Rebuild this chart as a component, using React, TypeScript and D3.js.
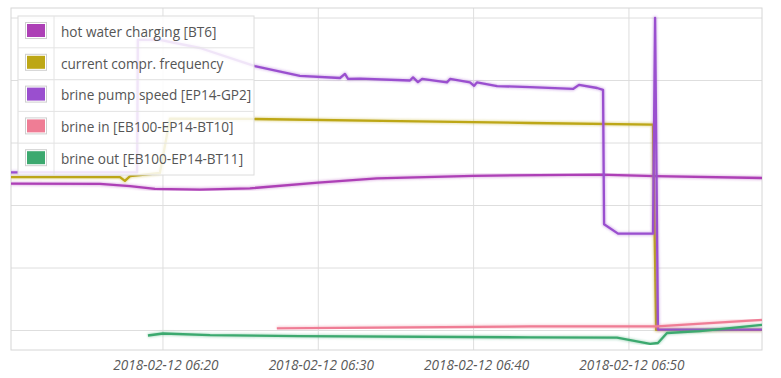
import React from "react";
import * as d3 from "d3";

const DAY = "2018-02-12";
const xTickLabels = ["06:20", "06:30", "06:40", "06:50"];
const yGridValues = [0, 20, 40, 60, 80, 100];
const xDomain = ["06:10:13", "06:58:34"];
const yDomain = [-6.24, 103.2];

const seriesNames = [
  "hot water charging [BT6]",
  "current compr. frequency",
  "brine pump speed [EP14-GP2]",
  "brine in [EB100-EP14-BT10]",
  "brine out [EB100-EP14-BT11]",
];
const seriesColors = ["#ad40b6", "#bda716", "#9a4fcf", "#ef7d95", "#3ca96f"];

const hotWater: [string, number][] = [
  ["06:10:13", 47.0], ["06:15:57", 46.9], ["06:17:53", 46.2], ["06:19:29", 45.3],
  ["06:22:23", 45.1], ["06:25:36", 45.5], ["06:29:59", 47.3], ["06:33:47", 48.7],
  ["06:39:58", 49.5], ["06:48:08", 49.9], ["06:51:41", 49.4], ["06:58:34", 48.8],
];
const comprFreq: [string, number][] = [
  ["06:10:13", 49.1], ["06:17:14", 49.1], ["06:17:33", 47.9], ["06:17:53", 49.4],
  ["06:19:48", 50.4], ["06:20:27", 67.8], ["06:25:36", 67.7], ["06:35:16", 67.0],
  ["06:43:38", 66.4], ["06:51:33", 65.9], ["06:51:45", 0.2], ["06:58:34", 0.2],
];
const brinePump: [string, number][] = [
  ["06:10:13", 50.6], ["06:18:20", 50.6], ["06:18:23", 93.0], ["06:19:48", 93.0],
  ["06:22:23", 90.4], ["06:25:55", 84.6], ["06:28:49", 81.5], ["06:31:24", 80.8],
  ["06:31:43", 82.1], ["06:31:55", 80.5], ["06:32:41", 80.6], ["06:35:54", 80.0],
  ["06:36:06", 81.0], ["06:36:25", 79.5], ["06:36:41", 80.5], ["06:38:17", 79.4],
  ["06:38:29", 80.5], ["06:39:46", 79.4], ["06:40:02", 78.3], ["06:40:13", 79.4],
  ["06:41:31", 78.2], ["06:43:38", 77.9], ["06:46:24", 77.3], ["06:46:47", 78.6],
  ["06:47:57", 77.6], ["06:48:20", 77.0], ["06:48:24", 34.0], ["06:49:18", 31.0],
  ["06:51:33", 31.0], ["06:51:41", 100.0], ["06:51:52", 0.3], ["06:58:34", 0.3],
];
const brineIn: [string, number][] = [
  ["06:27:20", 0.7], ["06:43:38", 1.3], ["06:51:48", 1.3], ["06:58:34", 3.4],
];
const brineOut: [string, number][] = [
  ["06:19:02", -1.6], ["06:20:00", -0.96], ["06:23:02", -1.5], ["06:28:49", -1.8],
  ["06:43:38", -2.2], ["06:49:14", -2.3], ["06:51:22", -4.3], ["06:51:52", -4.0],
  ["06:52:27", -0.8], ["06:54:35", -0.2], ["06:58:34", 1.8],
];

const allSeries = [hotWater, comprFreq, brinePump, brineIn, brineOut];

const parseT = d3.timeParse("%Y-%m-%d %H:%M:%S");
const toDate = (t: string) => parseT(`${DAY} ${t.length === 5 ? t + ":00" : t}`) as Date;

export default function App() {
  const W = 781, H = 378;
  const left = 11, right = 762, top = 8, bottom = 350;
  const x = d3.scaleTime().domain(xDomain.map(toDate)).range([left, right]);
  const y = d3.scaleLinear().domain(yDomain).range([bottom, top]);
  const line = d3
    .line<[string, number]>()
    .x((d) => x(toDate(d[0])))
    .y((d) => y(d[1]));

  const legX = 18, legY = 16, legW = 236, rowH = 31.8;

  return (
    <svg
      width={W}
      height={H}
      style={{ position: "absolute", left: 0, top: 0, background: "#fff" }}
      fontFamily="'Open Sans', sans-serif"
    >
      <defs>
        <clipPath id="plot">
          <rect x={left} y={top} width={right - left} height={bottom - top} />
        </clipPath>
        <filter id="soft" x="-5%" y="-5%" width="110%" height="110%">
          <feGaussianBlur stdDeviation="1.2" />
        </filter>
      </defs>
      {yGridValues.map((v) => (
        <line key={v} x1={left} x2={right} y1={y(v)} y2={y(v)} stroke="#dedede" strokeWidth={1} />
      ))}
      {xTickLabels.map((t) => (
        <line key={t} x1={x(toDate(t))} x2={x(toDate(t))} y1={top} y2={bottom} stroke="#dedede" strokeWidth={1} />
      ))}
      <rect x={left} y={top} width={right - left} height={bottom - top} fill="none" stroke="#d6d6d6" strokeWidth={1} />
      <g clipPath="url(#plot)">
        {allSeries.map((s, i) => (
          <g key={i}>
            <path d={line(s) || ""} fill="none" stroke={seriesColors[i]} strokeOpacity={0.35} strokeWidth={4} filter="url(#soft)" strokeLinejoin="round" />
            <path d={line(s) || ""} fill="none" stroke={seriesColors[i]} strokeWidth={2.3} strokeLinejoin="round" />
          </g>
        ))}
      </g>
      {xTickLabels.map((t) => (
        <text
          key={t}
          x={x(toDate(t)) + 3}
          y={370}
          textAnchor="middle"
          fontSize={13.6}
          fontStyle="italic"
          fill="#5a5a5a"
        >
          {`${DAY} ${t}`}
        </text>
      ))}
      <g>
        <rect x={legX} y={legY} width={legW} height={rowH * 5} fill="#fff" fillOpacity={0.85} stroke="#dcdcdc" />
        {seriesNames.map((n, i) => {
          const ry = legY + i * rowH;
          return (
            <g key={n}>
              {i > 0 && <line x1={legX} x2={legX + legW} y1={ry} y2={ry} stroke="#e4e4e4" />}
              <rect x={25.5} y={ry + 6.5} width={21} height={16} fill="#fff" stroke="#cfcfcf" />
              <rect x={27} y={ry + 8} width={18} height={13} fill={seriesColors[i]} />
              <text x={61} y={ry + rowH / 2 + 4.8} fontSize={13.6} fill="#555">
                {n}
              </text>
            </g>
          );
        })}
        <line x1={54} x2={54} y1={legY} y2={legY + rowH * 5} stroke="#e4e4e4" />
      </g>
    </svg>
  );
}
